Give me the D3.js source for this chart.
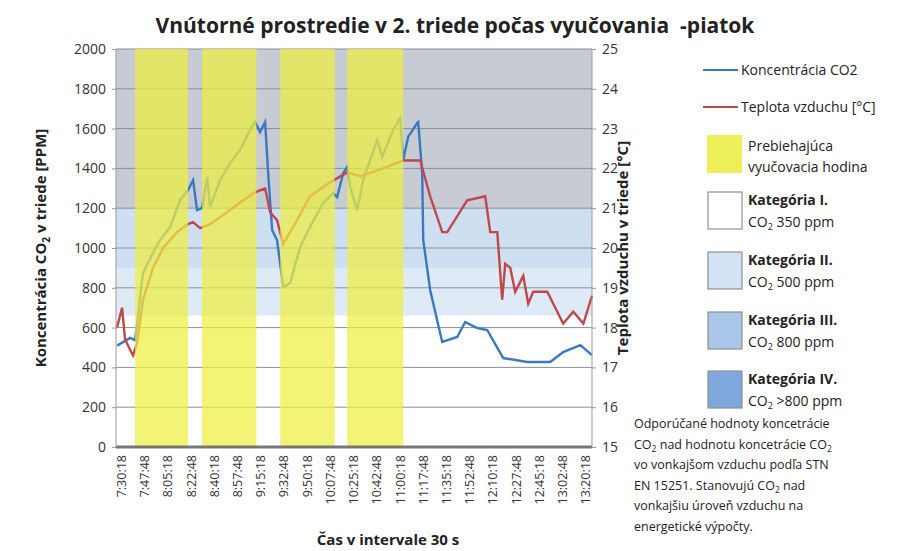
<!DOCTYPE html>
<html>
<head>
<meta charset="utf-8">
<script src="https://cdn.jsdelivr.net/npm/d3@7"></script>
<style>
body { margin: 0; background: #fff; font-family: "Open Sans", sans-serif; }
text { fill: #222; }
</style>
</head>
<body>
<div id="chart"></div>
<script>
// data: minutes after 7:30:18 (30 s samples)
var co2Minutes = [-3, -2.3, 6.8, 10.6, 16.6, 24.1, 29.4, 37, 44.5, 50.5, 54.3, 57.3, 61.1, 64.9, 67.1, 74.7, 82.2, 89.7, 97.3, 101, 104.8, 108.6, 110.9, 113.9, 117.6, 122.2, 127.5, 135, 142.5, 152.3, 159.9, 162.9, 167.5, 170.5, 172.7, 178, 182.5, 193.1, 196.9, 205.1, 210.4, 212.7, 216.4, 223.2, 224, 227, 227.8, 233, 242.1, 253.4, 259.4, 268.5, 276, 288.1, 306.2, 323.5, 333.3, 346.2, 355];
var co2Values = [510, 512, 548, 537, 874, 975, 1040, 1105, 1241, 1291, 1341, 1190, 1200, 1357, 1206, 1341, 1427, 1492, 1593, 1633, 1583, 1633, 1377, 1090, 1040, 804, 824, 1005, 1106, 1226, 1276, 1256, 1377, 1407, 1307, 1190, 1341, 1543, 1457, 1593, 1653, 1442, 1558, 1628, 1633, 1377, 1040, 789, 528, 553, 628, 598, 588, 447, 427, 427, 477, 512, 462];

var tempMinutes = [-3, -2.3, 0.8, 3, 9, 12, 16.6, 24.1, 31.7, 42.2, 50.5, 54.3, 59.6, 67.1, 79.9, 92, 101, 108.6, 112.4, 117.6, 122.2, 132.7, 142.5, 155.4, 165.2, 170.5, 180.3, 197.6, 212.7, 225.5, 233, 242.1, 245.9, 260.9, 274.5, 278.3, 283.6, 287.3, 289.6, 293.4, 297.1, 303.2, 306.9, 310.7, 321.3, 328.8, 333.3, 340.9, 348.5, 355];
var tempValues = [18.0, 18.1, 18.5, 17.7, 17.3, 17.6, 18.7, 19.5, 20.0, 20.4, 20.6, 20.65, 20.5, 20.6, 20.9, 21.2, 21.4, 21.5, 20.9, 20.7, 20.1, 20.7, 21.3, 21.6, 21.8, 21.9, 21.8, 22.0, 22.2, 22.2, 21.3, 20.4, 20.4, 21.2, 21.3, 20.4, 20.4, 18.7, 19.6, 19.5, 18.9, 19.3, 18.6, 18.9, 18.9, 18.4, 18.1, 18.4, 18.1, 18.8];

// lessons (minutes after 7:30:18)
var lessonStart = [10.6, 61.1, 120, 170.5];
var lessonEnd = [50.5, 102, 161, 212.7];

// CO2 category bands
var bandFrom = [660, 900, 1200];
var bandTo = [900, 1200, 2000];
var bandColor = ["#dfeaf7", "#cfdff2", "#c6cbd4"];

var tickLabels = ["7:30:18", "7:47:48", "8:05:18", "8:22:48", "8:40:18", "8:57:48", "9:15:18", "9:32:48", "9:50:18", "10:07:48", "10:25:18", "10:42:48", "11:00:18", "11:17:48", "11:35:18", "11:52:48", "12:10:18", "12:27:48", "12:45:18", "13:02:48", "13:20:18"];
var tickMinutes = tickLabels.map((d, i) => i * 17.5);

var svgWidth = 909, svgHeight = 551;
var margin = {top: 49, left: 116, right: 317, bottom: 104};
var width = svgWidth - margin.left - margin.right;   // 476
var height = svgHeight - margin.top - margin.bottom; // 398

var svg = d3.select("#chart").append("svg")
  .attr("width", svgWidth).attr("height", svgHeight);

var g = svg.append("g").attr("transform", `translate(${margin.left},${margin.top})`);

var x = d3.scaleLinear().domain([-3.8, 355]).range([0, width]);
var yL = d3.scaleLinear().domain([0, 2000]).range([height, 0]);
var yR = d3.scaleLinear().domain([15, 25]).range([height, 0]);

// bands
g.selectAll(".band").data(bandFrom).enter().append("rect")
  .attr("x", 0).attr("width", width)
  .attr("y", (d, i) => yL(bandTo[i]))
  .attr("height", (d, i) => yL(d) - yL(bandTo[i]))
  .attr("fill", (d, i) => bandColor[i]);

// grid
g.selectAll(".grid").data(d3.range(200, 2001, 200)).enter().append("line")
  .attr("x1", 0).attr("x2", width)
  .attr("y1", d => yL(d)).attr("y2", d => yL(d))
  .attr("stroke", "#8a8f96").attr("stroke-width", 1);

// lines
var co2 = co2Minutes.map((m, i) => [m, co2Values[i]]);
var temp = tempMinutes.map((m, i) => [m, tempValues[i]]);
g.append("path").datum(co2)
  .attr("d", d3.line().x(d => x(d[0])).y(d => yL(d[1])))
  .attr("fill", "none").attr("stroke", "#3a78c2").attr("stroke-width", 2.4);
g.append("path").datum(temp)
  .attr("d", d3.line().x(d => x(d[0])).y(d => yR(d[1])))
  .attr("fill", "none").attr("stroke", "#c0474a").attr("stroke-width", 2.4);

// lessons on top, semi transparent
g.selectAll(".lesson").data(lessonStart).enter().append("rect")
  .attr("x", d => x(d)).attr("y", 0)
  .attr("width", (d, i) => x(lessonEnd[i]) - x(d))
  .attr("height", height)
  .attr("fill", "#efef40").attr("opacity", 0.72);

// axes
g.append("line").attr("x1", 0).attr("x2", width).attr("y1", height).attr("y2", height)
  .attr("stroke", "#777").attr("stroke-width", 3);
g.append("line").attr("x1", 0).attr("x2", 0).attr("y1", 0).attr("y2", height).attr("stroke", "#999");
g.append("line").attr("x1", width).attr("x2", width).attr("y1", 0).attr("y2", height).attr("stroke", "#999");

var leftAxis = g.append("g").call(d3.axisLeft(yL).tickValues(d3.range(0, 2001, 200)).tickFormat(d3.format("d")).tickSize(4).tickPadding(6));
var rightAxis = g.append("g").attr("transform", `translate(${width},0)`)
  .call(d3.axisRight(yR).tickValues(d3.range(15, 26, 1)).tickFormat(d3.format("d")).tickSize(4).tickPadding(6));
[leftAxis, rightAxis].forEach(a => {
  a.select(".domain").remove();
  a.selectAll("line").attr("stroke", "#999");
  a.selectAll("text").attr("font-size", "14px").attr("font-family", "Open Sans").style("fill", "#333");
});

var bottom = g.append("g").attr("transform", `translate(0,${height})`)
  .call(d3.axisBottom(x).tickValues(tickMinutes).tickFormat((d, i) => tickLabels[i]).tickSize(0));
bottom.select(".domain").remove();
bottom.selectAll("text")
  .attr("transform", "rotate(-90)")
  .attr("text-anchor", "end")
  .attr("x", -8).attr("y", 0).attr("dy", "0.35em")
  .attr("font-size", "12.5px").attr("font-family", "Open Sans").style("fill", "#333");

// titles
svg.append("text").attr("x", 455).attr("y", 33).attr("text-anchor", "middle")
  .attr("font-size", "21px").attr("font-weight", "bold").style("white-space", "pre")
  .text("Vnútorné prostredie v 2. triede počas vyučovania  -piatok");
svg.append("text").attr("x", 388).attr("y", 545).attr("text-anchor", "middle")
  .attr("font-size", "15px").attr("font-weight", "bold").text("Čas v intervale 30 s");
var lt = svg.append("text").attr("transform", "translate(46,248) rotate(-90)").attr("text-anchor", "middle")
  .attr("font-size", "15px").attr("font-weight", "bold");
lt.append("tspan").text("Koncentrácia CO");
lt.append("tspan").attr("font-size", "10px").attr("dy", 4).text("2");
lt.append("tspan").attr("dy", -4).text(" v triede [PPM]");
svg.append("text").attr("transform", "translate(628,248) rotate(-90)").attr("text-anchor", "middle")
  .attr("font-size", "15px").attr("font-weight", "bold").text("Teplota vzduchu v triede [°C]");

// legend
var lg = svg.append("g");
lg.append("line").attr("x1", 703).attr("x2", 738).attr("y1", 70).attr("y2", 70).attr("stroke", "#3a78c2").attr("stroke-width", 2);
lg.append("text").attr("x", 741).attr("y", 75).attr("font-size", "14px").text("Koncentrácia CO2");
lg.append("line").attr("x1", 703).attr("x2", 738).attr("y1", 107).attr("y2", 107).attr("stroke", "#c0474a").attr("stroke-width", 2);
lg.append("text").attr("x", 741).attr("y", 112).attr("font-size", "14px").text("Teplota vzduchu [°C]");
lg.append("rect").attr("x", 707).attr("y", 135).attr("width", 35).attr("height", 38).attr("fill", "#eeee58");
lg.append("text").attr("x", 748).attr("y", 151).attr("font-size", "14px").text("Prebiehajúca");
lg.append("text").attr("x", 748).attr("y", 172).attr("font-size", "14px").text("vyučovacia hodina");

var catNames = ["Kategória I.", "Kategória II.", "Kategória III.", "Kategória IV."];
var catLimits = ["350 ppm", "500 ppm", "800 ppm", ">800 ppm"];
var catColors = ["#ffffff", "#d3e2f4", "#a9c6e9", "#7ea8dc"];
var catY = [192, 252, 312, 371];
catNames.forEach((n, i) => {
  lg.append("rect").attr("x", 708).attr("y", catY[i]).attr("width", 34).attr("height", 37)
    .attr("fill", catColors[i]).attr("stroke", "#8a8f96").attr("stroke-width", 1.2);
  lg.append("text").attr("x", 748).attr("y", catY[i] + 13).attr("font-size", "14px").attr("font-weight", "bold").text(n);
  var t = lg.append("text").attr("x", 748).attr("y", catY[i] + 35).attr("font-size", "14px");
  t.append("tspan").text("CO");
  t.append("tspan").attr("font-size", "9px").attr("dy", 3).text("2");
  t.append("tspan").attr("dy", -3).text(" " + catLimits[i]);
});

var notes = [["Odporúčané hodnoty koncetrácie"], ["CO", "2", " nad hodnotu koncetrácie CO", "2"], ["vo vonkajšom vzduchu podľa STN"], ["EN 15251. Stanovujú CO", "2", " nad"], ["vonkajšiu úroveň vzduchu na"], ["energetické výpočty."]];
notes.forEach((parts, i) => {
  var t = lg.append("text").attr("x", 634).attr("y", 428 + i * 20.5).attr("font-size", "12.5px");
  parts.forEach((p, j) => {
    if (j % 2 === 1) t.append("tspan").attr("font-size", "8.5px").attr("dy", 3).text(p);
    else t.append("tspan").attr("dy", j ? -3 : 0).text(p);
  });
});
</script>
</body>
</html>
